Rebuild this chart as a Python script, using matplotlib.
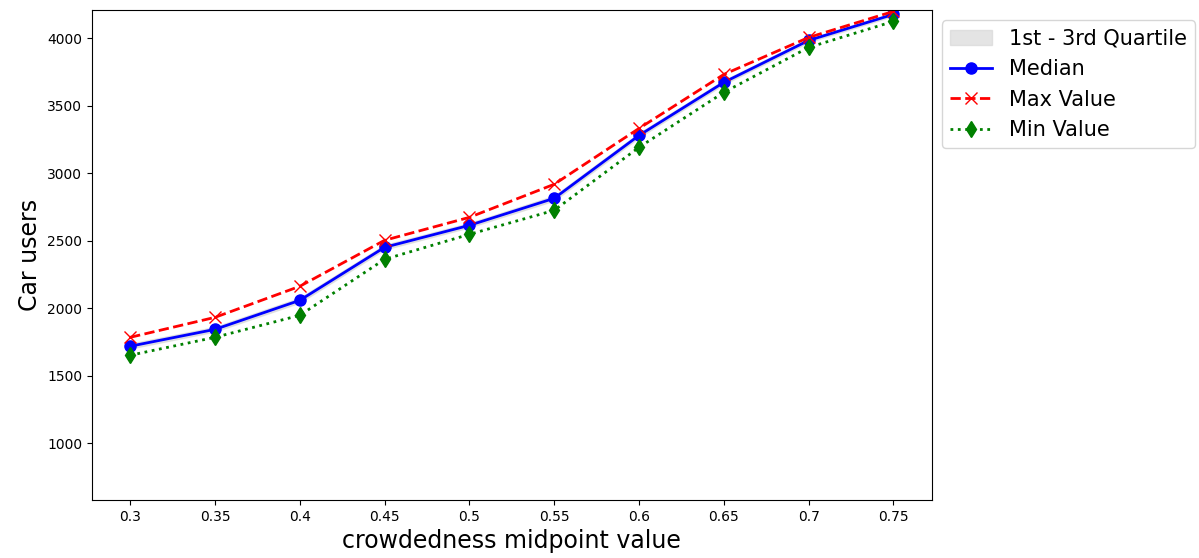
import matplotlib
matplotlib.use("Agg")
import matplotlib.pyplot as plt

crowd = [0.3, 0.35, 0.4, 0.45, 0.5, 0.55, 0.6, 0.65, 0.7, 0.75]
tick_labels = ["0.3", "0.35", "0.4", "0.45", "0.5", "0.55", "0.6", "0.65", "0.7", "0.75"]
median = [1719, 1844, 2059, 2452, 2615, 2815, 3281, 3674, 3985, 4178]
q1 = [1702, 1828, 2042, 2436, 2600, 2798, 3266, 3660, 3972, 4166]
q3 = [1738, 1862, 2078, 2470, 2632, 2834, 3298, 3690, 3998, 4190]
max_val = [1785, 1933, 2163, 2504, 2674, 2919, 3333, 3733, 4007, 4200]
min_val = [1652, 1785, 1948, 2363, 2548, 2726, 3193, 3600, 3933, 4126]

fig = plt.figure(figsize=(11.99, 5.58), dpi=100)
ax = fig.add_axes([0.0767, 0.104, 0.7003, 0.878])

ax.fill_between(crowd, q1, q3, color="lightgray", alpha=0.6, label="1st - 3rd Quartile")
ax.plot(crowd, median, "b-o", lw=2, ms=8, label="Median")
ax.plot(crowd, max_val, "r--x", lw=2, ms=8, label="Max Value")
ax.plot(crowd, min_val, "g:d", lw=2, ms=8, label="Min Value")

ax.set_xticks(crowd)
ax.set_xticklabels(tick_labels)
ax.set_ylim(580, 4210)
ax.set_xlabel("crowdedness midpoint value", fontsize=17)
ax.set_ylabel("Car users", fontsize=17)
ax.legend(loc="upper left", bbox_to_anchor=(1.0, 1.0), fontsize=15)

fig.savefig("out.png")
